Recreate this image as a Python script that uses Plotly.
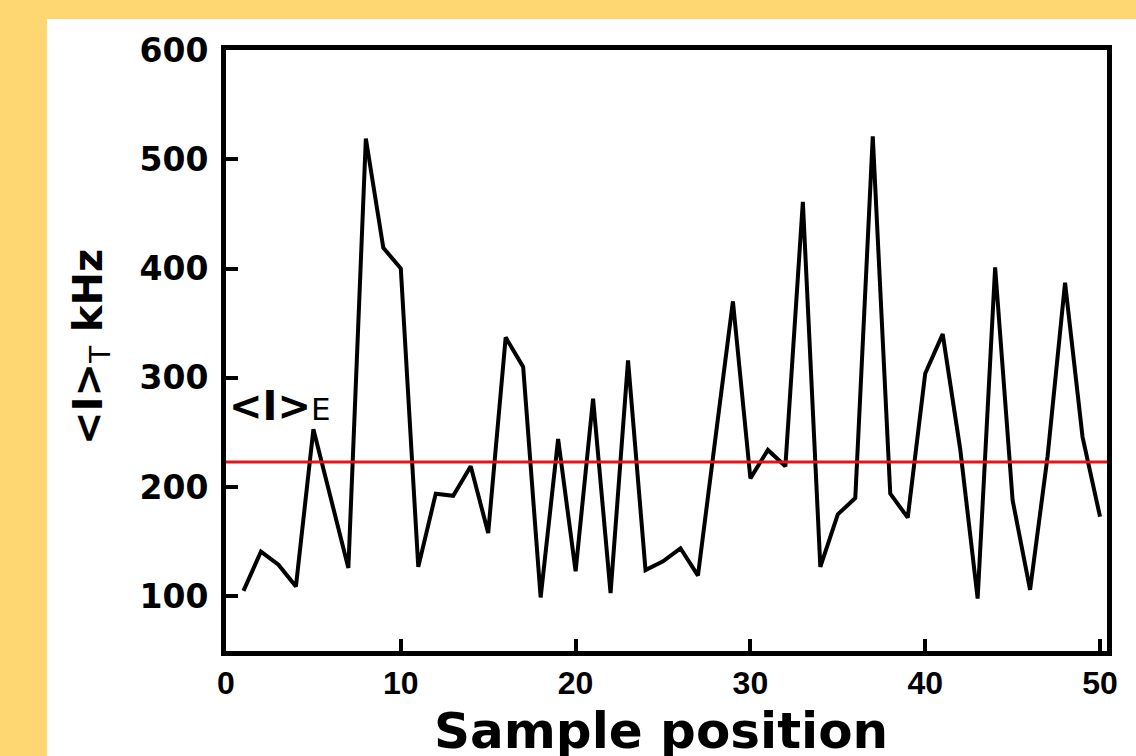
import plotly.graph_objects as go

positions = list(range(1, 51))
intensity_khz = [105, 141, 129, 109, 253, 190, 126, 519, 419, 400,
                 127, 194, 192, 219, 158, 337, 310, 99, 244, 123,
                 281, 103, 316, 124, 132, 144, 119, 245, 370, 208,
                 234, 219, 461, 127, 175, 190, 521, 194, 172, 304,
                 340, 235, 98, 401, 188, 106, 228, 387, 246, 173]
ensemble_mean = 223
x_ticks = [0, 10, 20, 30, 40, 50]
y_ticks = [100, 200, 300, 400, 500, 600]

FONT = "DejaVu Sans"
W, H = 1136, 756
ML, MR, MT, MB = 226, 29, 50, 105
PW, PH = W - ML - MR, H - MT - MB

def px_to_paper_x(px):
    return (px - ML) / PW

def px_to_paper_y(py):
    return (H - MB - py) / PH

fig = go.Figure()
fig.add_trace(go.Scatter(x=positions, y=intensity_khz, mode="lines",
                         line=dict(color="black", width=4), showlegend=False,
                         hoverinfo="x+y"))
fig.add_trace(go.Scatter(x=[0, 50.4], y=[ensemble_mean, ensemble_mean], mode="lines",
                         line=dict(color="#e0161b", width=3), showlegend=False))

axis_common = dict(showline=True, linecolor="black", linewidth=5, mirror=True,
                   ticks="inside", ticklen=12, tickwidth=4, tickcolor="black",
                   showgrid=False, zeroline=False)

fig.update_xaxes(range=[0, 50.4], tickvals=x_ticks, ticklabelstandoff=0,
                 tickfont=dict(family="Liberation Sans", size=32, color="black", weight="bold"),
                 **axis_common)
fig.update_yaxes(range=[50, 600], tickvals=y_ticks, ticklabelstandoff=6,
                 tickfont=dict(family=FONT, size=33, color="black", weight="bold"),
                 **axis_common)

fig.add_shape(type="rect", xref="paper", yref="paper",
              x0=px_to_paper_x(47), x1=px_to_paper_x(W + 20),
              y0=px_to_paper_y(H + 20), y1=px_to_paper_y(19),
              fillcolor="white", line=dict(width=0), layer="below")

fig.add_annotation(text="<b>Sample position</b>", xref="paper", yref="paper",
                   x=px_to_paper_x(661), y=px_to_paper_y(700), xanchor="center", yanchor="top",
                   showarrow=False, font=dict(family=FONT, size=50, color="black"))

fig.add_annotation(text="<b>&lt;I&gt;</b><sub>T</sub><b> kHz</b>", xref="paper", yref="paper",
                   x=px_to_paper_x(91), y=px_to_paper_y(347), xanchor="center", yanchor="middle",
                   textangle=-90, showarrow=False,
                   font=dict(family=FONT, size=40, color="black"))

fig.add_annotation(text="<b>&lt;I&gt;</b><span style=\"font-size:31px\">E</span>",
                   xref="paper", yref="paper",
                   x=px_to_paper_x(227), y=px_to_paper_y(406), xanchor="left", yanchor="middle",
                   showarrow=False, font=dict(family=FONT, size=40, color="black"))

fig.update_layout(width=W, height=H, margin=dict(l=ML, r=MR, t=MT, b=MB),
                  paper_bgcolor="#FED672", plot_bgcolor="white")

fig.write_html("out.html", config={"displayModeBar": False},
               post_script="document.body.style.margin='0';document.body.style.overflow='hidden';")
